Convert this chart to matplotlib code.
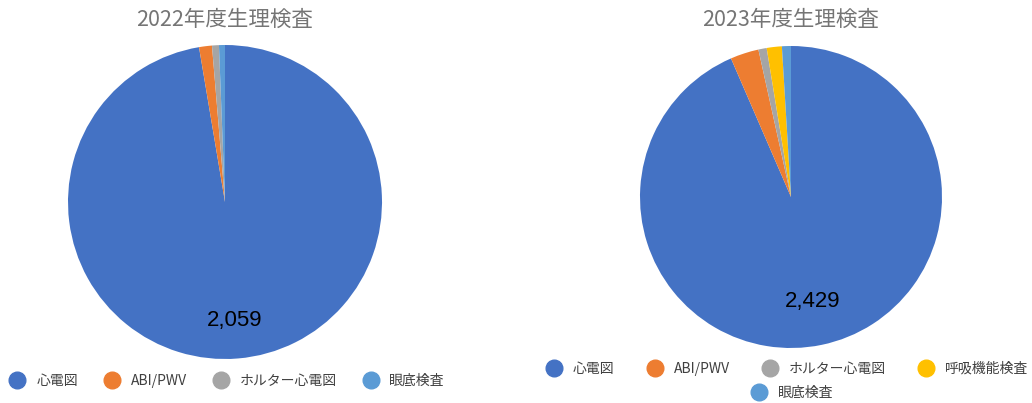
import matplotlib
matplotlib.use("Agg")
import matplotlib.pyplot as plt
from matplotlib.lines import Line2D
import numpy as np

plt.rcParams['font.family'] = ['Noto Sans CJK JP', 'DejaVu Sans']

W, H = 1032, 403

titles = ["2022年度生理検査", "2023年度生理検査"]
cats_2022 = ["心電図", "ABI/PWV", "ホルター心電図", "眼底検査"]
vals_2022 = [2059, 28, 15, 13]
cols_2022 = ["#4472C4", "#ED7D31", "#A5A5A5", "#5B9BD5"]
cats_2023 = ["心電図", "ABI/PWV", "ホルター心電図", "呼吸機能検査", "眼底検査"]
vals_2023 = [2429, 79, 23, 42, 25]
cols_2023 = ["#4472C4", "#ED7D31", "#A5A5A5", "#FFC000", "#5B9BD5"]

fig = plt.figure(figsize=(W / 100, H / 100), dpi=100)


def make_ax(cx, cy, r):
    ax = fig.add_axes([(cx - r) / W, (H - cy - r) / H, 2 * r / W, 2 * r / H])
    return ax


def draw(ax, vals, cols, dist):
    wedges, _ = ax.pie(vals, colors=cols, startangle=90, counterclock=False,
                       radius=1, wedgeprops=dict(linewidth=0), frame=True)
    ax.set_xlim(-1, 1)
    ax.set_ylim(-1, 1)
    ax.axis("off")
    w = wedges[0]
    mid = np.deg2rad((w.theta1 + w.theta2) / 2)
    ax.text(dist * np.cos(mid), dist * np.sin(mid), f"{vals[0]:,}",
            ha="center", va="center", fontsize=16, color="#000000",
            family="Liberation Sans")
    return wedges


ax1 = make_ax(225, 202, 157)
draw(ax1, vals_2022, cols_2022, 0.76)
ax2 = make_ax(791, 197, 151)
draw(ax2, vals_2023, cols_2023, 0.71)

fig.text(225 / W, 1 - 20 / H, titles[0], ha="center", va="center",
         fontsize=15.5, color="#757575")
fig.text(791 / W, 1 - 20 / H, titles[1], ha="center", va="center",
         fontsize=15.5, color="#757575")


def handles(cats, cols):
    return [Line2D([], [], marker="o", linestyle="none", markersize=12,
                   markerfacecolor=c, markeredgecolor=c, label=t)
            for t, c in zip(cats, cols)]


leg_kw = dict(frameon=False, fontsize=10, handletextpad=0.75,
              handlelength=1.2, borderpad=0, labelcolor="#404040")

fig.legend(handles=handles(cats_2022, cols_2022), ncol=4, columnspacing=1.85,
           loc="center", bbox_to_anchor=(227 / W, 1 - 381 / H), **leg_kw)
fig.legend(handles=handles(cats_2023[:4], cols_2023[:4]), ncol=4,
           columnspacing=2.3,
           loc="center", bbox_to_anchor=(787 / W, 1 - 369 / H), **leg_kw)
fig.legend(handles=handles(cats_2023[4:], cols_2023[4:]), ncol=1,
           loc="center", bbox_to_anchor=(792 / W, 1 - 393 / H), **leg_kw)

fig.savefig("out.png", dpi=100)
